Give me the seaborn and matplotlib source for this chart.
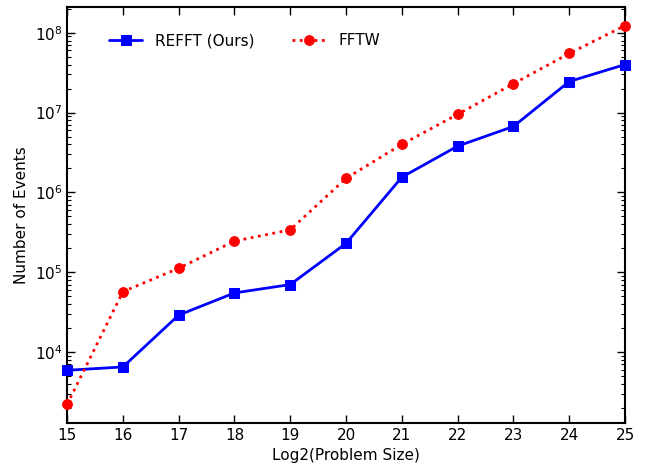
import pandas as pd
import seaborn as sns
import matplotlib.pyplot as plt
from matplotlib.ticker import LogLocator

# Dados
sizes = [15, 16, 17, 18, 19, 20, 21, 22, 23, 24, 25]
refft = [5.9e3, 6.5e3, 2.9e4, 5.5e4, 7.0e4, 2.3e5, 1.55e6, 3.8e6, 6.7e6, 2.45e7, 4.0e7]
fftw = [2.2e3, 5.7e4, 1.12e5, 2.45e5, 3.4e5, 1.5e6, 4.0e6, 9.5e6, 2.3e7, 5.5e7, 1.23e8]

df = pd.DataFrame({"size": sizes * 2,
                   "events": refft + fftw,
                   "method": ["REFFT (Ours)"] * len(sizes) + ["FFTW"] * len(sizes)})

sns.set_style("white")
plt.rcParams['font.family'] = ['DejaVu Sans']
plt.rcParams['text.color'] = 'black'
plt.rcParams['axes.labelcolor'] = 'black'
plt.rcParams['xtick.color'] = 'black'
plt.rcParams['ytick.color'] = 'black'

fig, ax = plt.subplots(figsize=(6.45, 4.7), dpi=100)
fig.subplots_adjust(left=0.104, right=0.969, top=0.985, bottom=0.1)

sns.lineplot(data=df[df.method == "REFFT (Ours)"], x="size", y="events", ax=ax,
             color="blue", marker="s", markersize=7, markeredgecolor="blue",
             linewidth=2, linestyle="-", label="REFFT (Ours)", clip_on=False, zorder=3)
sns.lineplot(data=df[df.method == "FFTW"], x="size", y="events", ax=ax,
             color="red", marker="o", markersize=7, markeredgecolor="red",
             linewidth=2, linestyle=":", label="FFTW", clip_on=False, zorder=3)

ax.set_yscale("log")
ax.set_xlim(15, 25)
ax.set_ylim(1.29e3, 2.1e8)
ax.set_xticks(sizes)
ax.yaxis.set_minor_locator(LogLocator(base=10, subs=range(2, 10)))

ax.set_xlabel("Log2(Problem Size)", fontsize=11)
ax.set_ylabel("Number of Events", fontsize=11)
ax.tick_params(axis="both", which="both", direction="in", top=True, right=True,
               bottom=True, left=True, labelsize=11, color="black", labelcolor="black")
ax.tick_params(which="major", length=6, width=1)
ax.tick_params(which="minor", length=3, width=0.8)
for s in ax.spines.values():
    s.set_color("black")
    s.set_linewidth(1.5)

ax.legend(loc="upper left", ncol=2, frameon=False, fontsize=11,
          bbox_to_anchor=(0.05, 0.97), columnspacing=2.5, handlelength=2.2)

plt.savefig("out.png", dpi=100)
